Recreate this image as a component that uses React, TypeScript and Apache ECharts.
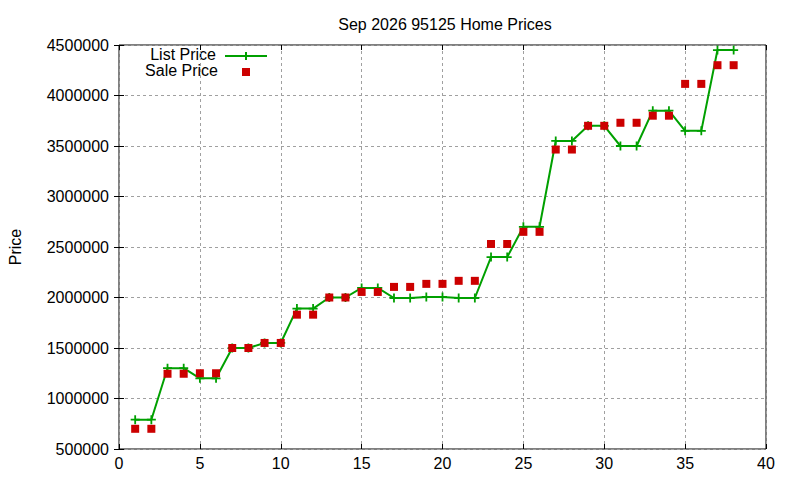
import { useEffect, useRef } from "react"
import * as echarts from "echarts"

const months = [
  1, 2, 3, 4, 5, 6, 7, 8, 9, 10, 11, 12, 13, 14, 15, 16, 17, 18, 19,
  20, 21, 22, 23, 24, 25, 26, 27, 28, 29, 30, 31, 32, 33, 34, 35, 36, 37, 38,
]

const listPrice = [
  790000, 790000, 1300000, 1300000, 1200000, 1200000, 1500000, 1500000,
  1550000, 1550000, 1890000, 1890000, 2000000, 2000000, 2095000, 2095000,
  1995000, 1995000, 2005000, 2005000, 1995000, 1995000, 2400000, 2400000,
  2700000, 2700000, 3550000, 3550000, 3700000, 3700000, 3500000, 3500000,
  3850000, 3850000, 3650000, 3650000, 4450000, 4450000,
]

const salePrice = [
  700000, 700000, 1245000, 1245000, 1250000, 1250000, 1500000, 1500000,
  1550000, 1550000, 1830000, 1830000, 2000000, 2000000, 2055000, 2055000,
  2105000, 2105000, 2135000, 2135000, 2165000, 2165000, 2530000, 2530000,
  2650000, 2650000, 3465000, 3465000, 3700000, 3700000, 3730000, 3730000,
  3800000, 3800000, 4115000, 4115000, 4300000, 4300000,
]

const FONT = "Liberation Sans, Arial, sans-serif"
const PLUS = "path://M3.6,0H5.4V3.6H9V5.4H5.4V9H3.6V5.4H0V3.6H3.6Z"

export default function App() {
  const chartRef = useRef<HTMLDivElement>(null)

  useEffect(() => {
    if (!chartRef.current) return
    const chart = echarts.init(chartRef.current, null, { renderer: "svg" })

    const dashed = { show: true, lineStyle: { color: "#a0a0a0", type: [3, 3], width: 1 } }
    const tick = { show: true, inside: true, length: 5, lineStyle: { color: "#000" } }

    chart.setOption({
      animation: false,
      backgroundColor: "#fff",
      title: {
        text: "Sep 2026 95125 Home Prices",
        left: 440,
        top: 11,
        textAlign: "center",
        textStyle: { fontFamily: FONT, fontSize: 16, fontWeight: "normal", color: "#000" },
      },
      grid: {
        left: 119, right: 34, top: 45, bottom: 31,
        outerBoundsMode: "none", containLabel: false,
        show: true, borderColor: "#000", borderWidth: 1, backgroundColor: "transparent",
      },
      xAxis: [
        {
          type: "value", min: 0, max: 40, interval: 5,
          axisLine: { show: false }, axisTick: tick,
          axisLabel: { fontFamily: FONT, fontSize: 16, color: "#000", margin: 6 },
          splitLine: dashed,
        },
        {
          type: "value", position: "top", min: 0, max: 40, interval: 5,
          axisLine: { show: false }, axisTick: tick,
          axisLabel: { show: false }, splitLine: { show: false },
        },
      ],
      yAxis: [
        {
          type: "value", min: 500000, max: 4500000, interval: 500000,
          name: "Price", nameLocation: "middle", nameGap: 96, nameRotate: 90,
          nameTextStyle: { fontFamily: FONT, fontSize: 16, color: "#000" },
          axisLine: { show: false }, axisTick: tick,
          axisLabel: {
            fontFamily: FONT, fontSize: 16, color: "#000", margin: 10,
            formatter: (v: number) => String(v),
          },
          splitLine: dashed,
        },
        {
          type: "value", position: "right", min: 500000, max: 4500000, interval: 500000,
          axisLine: { show: false }, axisTick: tick,
          axisLabel: { show: false }, splitLine: { show: false },
        },
      ],
      graphic: [
        {
          type: "text", right: 800 - 216, top: 46,
          style: { text: "List Price", fontFamily: FONT, fontSize: 16, fill: "#000" },
        },
        {
          type: "line", shape: { x1: 225, y1: 56, x2: 267, y2: 56 },
          style: { stroke: "#00a000", lineWidth: 2 },
        },
        {
          type: "line", shape: { x1: 246, y1: 52, x2: 246, y2: 60 },
          style: { stroke: "#00a000", lineWidth: 2 },
        },
        {
          type: "text", right: 800 - 218, top: 62,
          style: { text: "Sale Price", fontFamily: FONT, fontSize: 16, fill: "#000" },
        },
        {
          type: "rect", shape: { x: 242, y: 68, width: 8, height: 8 },
          style: { fill: "#cc0000" },
        },
      ],
      series: [
        {
          name: "List Price",
          type: "line",
          data: months.map((m, i) => [m, listPrice[i]]),
          symbol: PLUS,
          symbolSize: 9,
          showAllSymbol: true,
          lineStyle: { color: "#00a000", width: 2 },
          itemStyle: { color: "#00a000" },
          z: 2,
        },
        {
          name: "Sale Price",
          type: "scatter",
          data: months.map((m, i) => [m, salePrice[i]]),
          symbol: "rect",
          symbolSize: 8,
          itemStyle: { color: "#cc0000", opacity: 1 },
          z: 3,
        },
      ],
    })

    return () => {
      chart.dispose()
    }
  }, [])

  return (
    <div
      ref={chartRef}
      style={{ position: "fixed", left: 0, top: 0, width: 800, height: 480 }}
    />
  )
}
